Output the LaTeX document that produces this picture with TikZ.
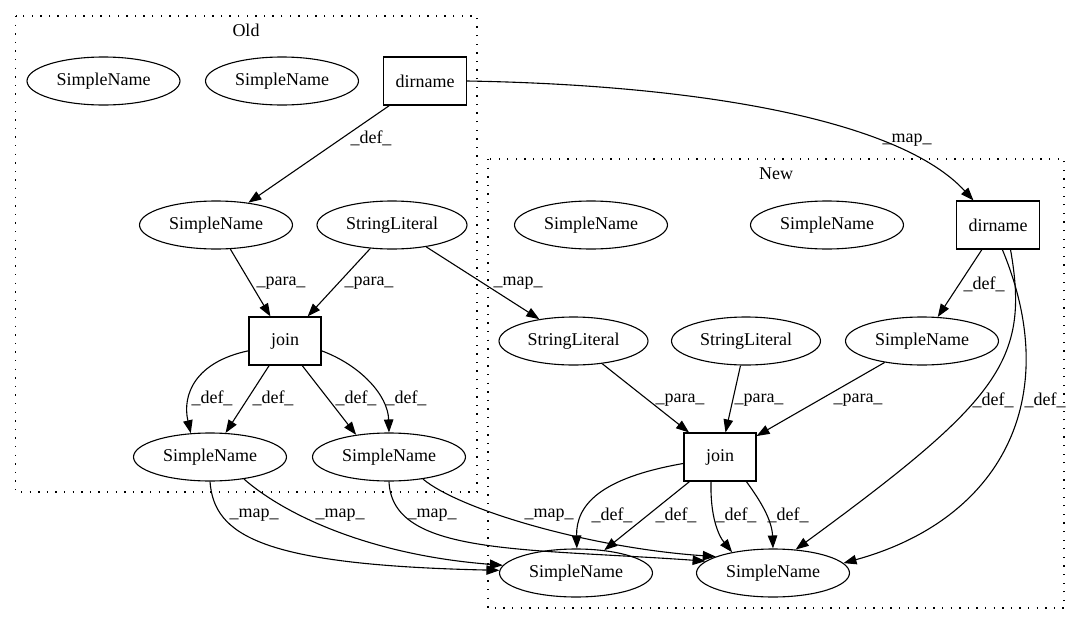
\documentclass[tikz,border=0pt]{standalone}
\usepackage{fontspec}
\setmainfont{Liberation Serif}
\usetikzlibrary{shapes.geometric,arrows.meta}
\begin{document}
\begin{tikzpicture}[x=1pt,y=-1pt,
  every node/.style={font=\fontsize{18}{20}\selectfont},
  ell/.style={draw, ellipse, minimum width=153, minimum height=48, inner sep=0, line width=1.1},
  box/.style={draw, rectangle, minimum height=48, inner sep=0, line width=1.1},
  clus/.style={draw, line width=1.2, dash pattern=on 1.3 off 7.3},
  e/.style={line width=1.1, -{Triangle[length=13,width=9.5]}},
  lbl/.style={inner sep=0}]
\useasboundingbox (0,0) rectangle (1080,624);
% clusters
\draw[clus] (15.5,16) rectangle (477,492);
\node[lbl] (oldlbl) at (246,30) {Old};
\draw[clus] (488,159) rectangle (1064,608);
\node[lbl] (newlbl) at (776,174) {New};
% old nodes
\node[ell] (o1) at (103.5,81) {SimpleName};
\node[ell] (o2) at (282,81) {SimpleName};
\node[box, minimum width=83] (od) at (425,81) {dirname};
\node[ell] (o3) at (216,225) {SimpleName};
\node[ell, minimum width=150] (osl) at (392,225) {StringLiteral};
\node[box, minimum width=72] (oj) at (285,341) {join};
\node[ell] (o4) at (210,457) {SimpleName};
\node[ell] (o5) at (389,457) {SimpleName};
% new nodes
\node[ell] (n1) at (591,225) {SimpleName};
\node[ell] (n2) at (827,225) {SimpleName};
\node[box, minimum width=83] (nd) at (998,225) {dirname};
\node[ell, minimum width=149] (nsl1) at (573.5,341) {StringLiteral};
\node[ell, minimum width=149] (nsl2) at (746,341) {StringLiteral};
\node[ell] (n8) at (922,341) {SimpleName};
\node[box, minimum width=72] (nj) at (720,457) {join};
\node[ell] (n9) at (576,573) {SimpleName};
\node[ell] (n10) at (773,573) {SimpleName};
% old edges
\draw[e] (od) -- (o3);
\draw[e] (o3) -- (oj);
\draw[e] (osl) -- (oj);
\draw[e] (osl) -- (nsl1);
\draw[e] (od.east) .. controls (700,85) and (900,120) .. (nd.135);
\draw[e] (oj.195) .. controls (195,362) and (182,395) .. (o4.129);
\draw[e] (oj) -- (o4);
\draw[e] (oj.-55) -- (o5.146);
\draw[e] (oj.-15) .. controls (360,365) and (388,395) .. (o5.90);
\draw[e] (o4.-90) .. controls (214,535) and (260,565) .. (n9.178);
\draw[e] (o4.-33) .. controls (285,515) and (370,555) .. (n9.174);
\draw[e] (o5.-90) .. controls (392,555) and (520,548) .. (n10.170);
\draw[e] (o5.-33) .. controls (460,510) and (590,548) .. (n10.164);
% new edges
\draw[e] (nsl1) -- (nj);
\draw[e] (nsl2) -- (nj);
\draw[e] (n8) -- (nj);
\draw[e] (nd) -- (n8);
\draw[e] (nd.-63) .. controls (1030,360) and (1000,400) .. (n10.46);
\draw[e] (nd.-80) .. controls (1065,400) and (1000,520) .. (n10.8);
\draw[e] (nj.190) .. controls (600,478) and (576,505) .. (n9.88);
\draw[e] (nj) -- (n9);
\draw[e] (nj.250) .. controls (710,515) and (718,535) .. (n10.153);
\draw[e] (nj.-43) .. controls (760,500) and (772,520) .. (n10.90);
% labels
\node[lbl] (l1) at (371,138) {\_def\_};
\node[lbl] (l2) at (281,283) {\_para\_};
\node[lbl] (l3) at (369,283) {\_para\_};
\node[lbl] (l4) at (518,283) {\_map\_};
\node[lbl] (l5) at (907,140) {\_map\_};
\node[lbl] (l6) at (984,284) {\_def\_};
\node[lbl] (l7) at (680,400) {\_para\_};
\node[lbl] (l8) at (759,400) {\_para\_};
\node[lbl] (l9) at (858,400) {\_para\_};
\node[lbl] (l10) at (993,400) {\_def\_};
\node[lbl] (l11) at (1045,400) {\_def\_};
\node[lbl] (l12) at (212,398) {\_def\_};
\node[lbl] (l13) at (273,398) {\_def\_};
\node[lbl] (l14) at (356,398) {\_def\_};
\node[lbl] (l15) at (406,398) {\_def\_};
\node[lbl] (l16) at (254,515) {\_map\_};
\node[lbl] (l17) at (340,515) {\_map\_};
\node[lbl] (l18) at (432,515) {\_map\_};
\node[lbl] (l19) at (549,515) {\_map\_};
\node[lbl] (l20) at (612,515) {\_def\_};
\node[lbl] (l21) at (676,515) {\_def\_};
\node[lbl] (l22) at (736,515) {\_def\_};
\node[lbl] (l23) at (788,515) {\_def\_};
\end{tikzpicture}
\end{document}
